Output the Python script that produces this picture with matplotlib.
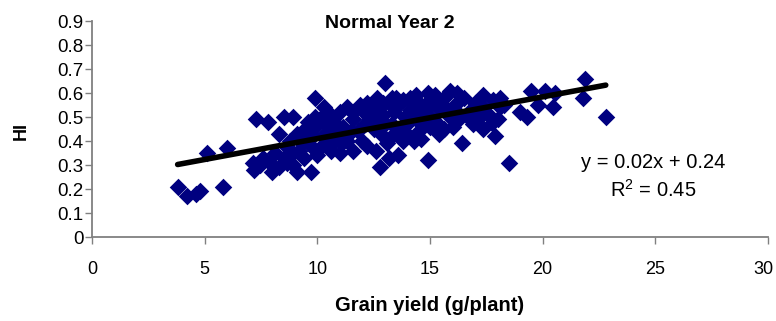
import numpy as np
import matplotlib
matplotlib.use("Agg")
import matplotlib.pyplot as plt
from matplotlib.transforms import ScaledTranslation

# Grain yield (g/plant) and harvest index
grain_yield = [
    3.8, 4.2, 4.6, 4.8, 5.8, 5.1, 6.0, 7.3, 7.8, 8.5, 8.9, 8.3, 7.15, 7.2, 7.45,
    7.9, 8.0, 8.3, 8.5, 8.65, 8.9, 8.9, 8.8, 9.1, 9.1, 9.3, 9.4, 9.45, 9.7, 9.7,
    9.7, 9.9, 10.0, 10.0, 10.1, 10.25, 10.3, 10.6, 11.0, 11.0, 9.6, 9.9, 10.2,
    10.5, 10.8, 10.4, 9.5, 8.7, 9.2, 10.7, 8.1, 7.6, 9.8, 10.9, 10.4, 11.3,
    11.1, 11.15, 11.3, 11.3, 11.6, 11.6, 11.9, 12.0, 12.3, 12.5, 12.6, 12.65,
    12.8, 12.8, 12.9, 13.0, 13.2, 13.4, 13.4, 13.6, 13.6, 13.8, 14.1, 14.25,
    14.3, 14.4, 14.6, 14.7, 14.9, 15.1, 15.1, 11.8, 12.1, 12.4, 12.7, 13.0,
    13.2, 13.3, 13.7, 13.9, 14.0, 14.2, 14.5, 14.8, 12.2, 13.1, 11.5, 12.9,
    14.6, 13.5, 12.0, 15.0, 14.0, 12.2, 12.6, 13.3, 13.8, 14.5, 15.0, 15.6,
    16.2, 14.9, 10.6, 9.9, 11.6, 12.9, 14.1,
    15.2, 15.3, 15.3, 15.75, 15.9, 15.9, 16.3, 16.4, 16.5, 16.8, 16.9, 17.35,
    17.35, 17.35, 17.75, 17.9, 18.1, 18.1, 18.3, 18.5, 19.0, 19.3, 19.5, 20.1,
    20.55, 21.9, 21.8, 22.8, 19.8, 20.45, 15.5, 15.6, 16.1, 16.0, 16.7, 17.0,
    17.6, 17.2, 18.0, 15.4, 16.2, 17.8,
]
harvest_index = [
    0.21, 0.17, 0.18, 0.19, 0.21, 0.35, 0.37, 0.49, 0.48, 0.50, 0.50, 0.43, 0.31,
    0.28, 0.30, 0.31, 0.27, 0.29, 0.33, 0.31, 0.30, 0.35, 0.40, 0.43, 0.27, 0.39,
    0.33, 0.45, 0.27, 0.38, 0.45, 0.58, 0.48, 0.34, 0.37, 0.42, 0.54, 0.36, 0.35,
    0.52, 0.48, 0.46, 0.50, 0.44, 0.40, 0.47, 0.41, 0.37, 0.36, 0.49, 0.35, 0.33,
    0.42, 0.46, 0.39, 0.40,
    0.39, 0.46, 0.54, 0.42, 0.49, 0.36, 0.55, 0.40, 0.50, 0.45, 0.36, 0.58,
    0.54, 0.29, 0.42, 0.64, 0.33, 0.52, 0.43, 0.55, 0.34, 0.40, 0.53, 0.50,
    0.40, 0.59, 0.47, 0.52, 0.32, 0.58, 0.49, 0.44, 0.47, 0.52, 0.49, 0.47,
    0.56, 0.47, 0.45, 0.50, 0.43, 0.56, 0.44, 0.55, 0.38, 0.39, 0.44, 0.51,
    0.41, 0.58, 0.53, 0.46, 0.47, 0.56, 0.53, 0.58, 0.57, 0.56, 0.55, 0.58,
    0.60, 0.60, 0.51, 0.50, 0.52, 0.56, 0.58,
    0.59, 0.54, 0.475, 0.52, 0.61, 0.50, 0.49, 0.39, 0.58, 0.53, 0.47, 0.59,
    0.54, 0.45, 0.475, 0.42, 0.58, 0.54, 0.55, 0.31, 0.52, 0.50, 0.61, 0.61,
    0.60, 0.66, 0.58, 0.50, 0.55, 0.54, 0.56, 0.45, 0.55, 0.46, 0.50, 0.56,
    0.51, 0.50, 0.49, 0.43, 0.52, 0.57,
]

x_ticks = [0, 5, 10, 15, 20, 25, 30]
y_ticks = [0, 0.1, 0.2, 0.3, 0.4, 0.5, 0.6, 0.7, 0.8, 0.9]
y_tick_labels = ["0", "0.1", "0.2", "0.3", "0.4", "0.5", "0.6", "0.7", "0.8", "0.9"]

plt.rcParams["font.family"] = ["Liberation Sans", "DejaVu Sans"]
plt.rcParams["mathtext.fontset"] = "custom"
plt.rcParams["mathtext.rm"] = "Liberation Sans"

fig = plt.figure(figsize=(7.76, 3.21), dpi=100)
ax = fig.add_axes([92 / 776, 84 / 321, 676 / 776, 216 / 321])

x = np.array(grain_yield)
y = np.array(harvest_index)
ax.scatter(x, y, marker="D", s=80, color="#000080", linewidths=0, zorder=2)

# linear trendline over the data range
slope, intercept = np.polyfit(x, y, 1)
xs = np.array([x.min(), x.max()])
ax.plot(xs, slope * xs + intercept, color="black", linewidth=4,
        solid_capstyle="round", zorder=3)

ax.text(24.9, 0.31, "y = 0.02x + 0.24", ha="center", va="center", fontsize=14.5)
ax.text(24.9, 0.197, "R$^2$ = 0.45", ha="center", va="center", fontsize=14.5)

ax.set_xlim(0, 30)
ax.set_ylim(0, 0.9)
ax.set_xticks(x_ticks)
ax.set_yticks(y_ticks)
ax.set_yticklabels(y_tick_labels)
ax.tick_params(axis="both", direction="out", length=5, width=1, color="#808080")
ax.tick_params(axis="y", labelsize=13.5, pad=1)
ax.tick_params(axis="x", labelsize=13, pad=12)
for side in ["top", "right"]:
    ax.spines[side].set_visible(False)
for side in ["left", "bottom"]:
    ax.spines[side].set_color("#808080")
    ax.spines[side].set_linewidth(1.3)

# the last x label sits a bit inside the figure edge, as in the original
last = ax.get_xticklabels()[-1]
last.set_transform(last.get_transform() + ScaledTranslation(-5 / 100, 0, fig.dpi_scale_trans))

ax.set_xlabel("Grain yield (g/plant)", fontsize=14.5, fontweight="bold")
ax.xaxis.set_label_coords(0.5, -0.275)
ax.set_ylabel("HI", fontsize=13, fontweight="bold")
ax.yaxis.set_label_coords(-0.092, 0.49)

fig.text(390 / 776, 1 - 23 / 321, "Normal Year 2", ha="center", va="center",
         fontsize=14, fontweight="bold")

fig.savefig("out.png", dpi=100)
